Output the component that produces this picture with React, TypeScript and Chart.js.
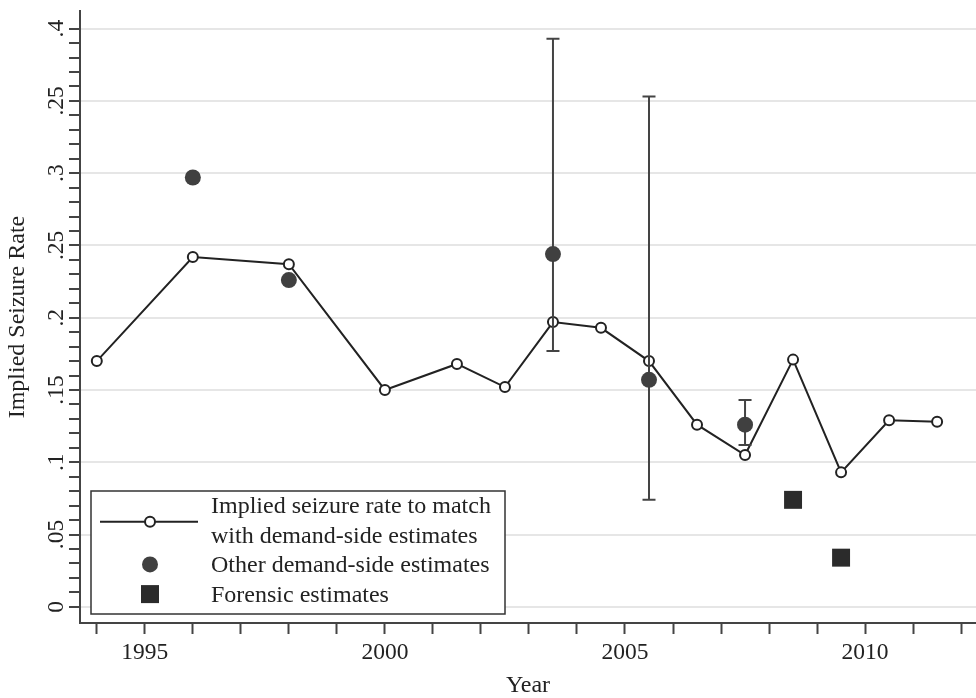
import { useEffect, useRef } from 'react';
import { Chart, registerables } from 'chart.js';

Chart.register(...registerables);

const SERIF = "'Liberation Serif', 'Times New Roman', Times, serif";
const INK = '#222222';
const AXIS = '#444444';

// Implied seizure rate needed to match demand-side estimates
const seizureYears = [1994, 1996, 1998, 2000, 2001.5, 2002.5, 2003.5, 2004.5, 2005.5, 2006.5, 2007.5, 2008.5, 2009.5, 2010.5, 2011.5];
const seizureRates = [0.170, 0.242, 0.237, 0.150, 0.168, 0.152, 0.197, 0.193, 0.170, 0.126, 0.105, 0.171, 0.093, 0.129, 0.128];

// Other demand-side estimates, with ranges where available
const demandYears = [1996, 1998, 2003.5, 2005.5, 2007.5];
const demandRates = [0.297, 0.226, 0.244, 0.157, 0.126];
const demandLow: (number | null)[] = [null, null, 0.177, 0.074, 0.112];
const demandHigh: (number | null)[] = [null, null, 0.393, 0.353, 0.143];

// Forensic estimates
const forensicYears = [2008.5, 2009.5];
const forensicRates = [0.074, 0.034];

// Axis ticks
const yearTicks = [1994, 1995, 1996, 1997, 1998, 1999, 2000, 2001, 2002, 2003, 2004, 2005, 2006, 2007, 2008, 2009, 2010, 2011, 2012];
const yearLabels = ['1995', '2000', '2005', '2010'];
const rateTickValues = [0, 0.05, 0.1, 0.15, 0.2, 0.25, 0.3, 0.35, 0.4];
const rateTickLabels = ['0', '.05', '.1', '.15', '.2', '.25', '.3', '.25', '.4'];

const legendLines = [
  ['Implied seizure rate to match', 'with demand-side estimates'],
  ['Other demand-side estimates'],
  ['Forensic estimates'],
];

// minor rate ticks every 0.01 between the labelled ones
const rateMinorTicks: number[] = [];
for (let i = 0; i <= 40; i++) rateMinorTicks.push(i / 100);

const majorIndex = (v: number) => {
  const hundredths = Math.round(v * 100);
  return hundredths % 5 === 0 ? hundredths / 5 : -1;
};

const errorBars = {
  id: 'errorBars',
  beforeDatasetDraw(chart: any, args: any) {
    if (args.index !== 1) return;
    const { ctx, scales } = chart;
    const xs = scales.x;
    const ys = scales.y;
    ctx.save();
    ctx.strokeStyle = AXIS;
    ctx.lineWidth = 2;
    demandYears.forEach((yr, i) => {
      const lo = demandLow[i];
      const hi = demandHigh[i];
      if (lo == null || hi == null) return;
      const px = xs.getPixelForValue(yr);
      const pl = ys.getPixelForValue(lo);
      const ph = ys.getPixelForValue(hi);
      const cap = 6.5;
      ctx.beginPath();
      ctx.moveTo(px, pl);
      ctx.lineTo(px, ph);
      ctx.moveTo(px - cap, pl);
      ctx.lineTo(px + cap, pl);
      ctx.moveTo(px - cap, ph);
      ctx.lineTo(px + cap, ph);
      ctx.stroke();
    });
    ctx.restore();
  },
};

const boxedLegend = {
  id: 'boxedLegend',
  afterDraw(chart: any) {
    const { ctx, chartArea } = chart;
    const left = chartArea.left + 11;
    const top = chartArea.bottom - 132;
    const width = 414;
    const height = 123;
    ctx.save();
    ctx.fillStyle = '#ffffff';
    ctx.fillRect(left, top, width, height);
    ctx.strokeStyle = '#333333';
    ctx.lineWidth = 1.5;
    ctx.strokeRect(left, top, width, height);

    const symX = left + 59;
    const textX = left + 120;
    const lineGap = 29.7;
    const firstBase = top + 22;

    // line + hollow marker
    const ySym1 = firstBase + lineGap / 2 - 6;
    ctx.strokeStyle = INK;
    ctx.lineWidth = 2;
    ctx.beginPath();
    ctx.moveTo(left + 9, ySym1);
    ctx.lineTo(left + 107, ySym1);
    ctx.stroke();
    ctx.beginPath();
    ctx.arc(symX, ySym1, 5, 0, Math.PI * 2);
    ctx.fillStyle = '#ffffff';
    ctx.fill();
    ctx.stroke();

    // filled circle
    const ySym2 = firstBase + lineGap * 2 - 8;
    ctx.beginPath();
    ctx.arc(symX, ySym2, 8, 0, Math.PI * 2);
    ctx.fillStyle = '#404040';
    ctx.fill();

    // square
    const ySym3 = firstBase + lineGap * 3 - 8;
    ctx.fillStyle = '#2b2b2b';
    ctx.fillRect(symX - 9, ySym3 - 9, 18, 18);

    ctx.fillStyle = INK;
    ctx.font = `24px ${SERIF}`;
    ctx.textAlign = 'left';
    ctx.textBaseline = 'alphabetic';
    let row = 0;
    legendLines.forEach((entry) => {
      entry.forEach((t) => {
        ctx.fillText(t, textX, firstBase + row * lineGap);
        row++;
      });
    });
    ctx.restore();
  },
};

export default function App() {
  const canvasRef = useRef<HTMLCanvasElement | null>(null);

  useEffect(() => {
    const canvas = canvasRef.current;
    if (!canvas) return;

    const chart = new Chart(canvas, {
      type: 'scatter',
      data: {
        datasets: [
          {
            label: 'Implied seizure rate to match with demand-side estimates',
            data: seizureYears.map((x, i) => ({ x, y: seizureRates[i] })),
            showLine: true,
            borderColor: INK,
            borderWidth: 2,
            pointRadius: 5,
            pointBorderWidth: 2,
            pointBackgroundColor: '#ffffff',
            pointBorderColor: INK,
            order: 3,
          },
          {
            label: 'Other demand-side estimates',
            data: demandYears.map((x, i) => ({ x, y: demandRates[i] })),
            pointRadius: 8,
            pointBorderWidth: 0,
            pointBackgroundColor: '#404040',
            pointBorderColor: '#404040',
            order: 2,
          },
          {
            label: 'Forensic estimates',
            data: forensicYears.map((x, i) => ({ x, y: forensicRates[i] })),
            pointStyle: 'rect',
            pointRadius: 12.7,
            pointBorderWidth: 0,
            pointBackgroundColor: '#2b2b2b',
            pointBorderColor: '#2b2b2b',
            order: 1,
          },
        ],
      },
      options: {
        responsive: false,
        animation: false,
        devicePixelRatio: 1,
        layout: { autoPadding: false, padding: { top: 5, left: 0, right: 0, bottom: 0 } },
        plugins: {
          legend: { display: false },
          tooltip: { enabled: false },
        },
        scales: {
          x: {
            type: 'linear',
            min: 1993.65,
            max: 2012.31,
            afterBuildTicks: (s: any) => {
              s.ticks = yearTicks.map((v) => ({ value: v }));
            },
            afterFit: (s: any) => {
              s.height = 75;
            },
            grid: {
              drawOnChartArea: false,
              tickColor: AXIS,
              tickLength: 11,
              tickWidth: 2,
            },
            border: { color: AXIS, width: 2 },
            ticks: {
              autoSkip: false,
              minRotation: 0,
              maxRotation: 0,
              padding: 5,
              color: INK,
              font: { family: SERIF, size: 23.5 },
              callback: (v: any) => (yearLabels.includes(String(v)) ? String(v) : ''),
            },
            title: {
              display: true,
              text: 'Year',
              color: INK,
              font: { family: SERIF, size: 24, lineHeight: 1 },
              padding: { top: 0, bottom: 0 },
            },
          },
          y: {
            type: 'linear',
            min: -0.0112,
            max: 0.4121,
            afterBuildTicks: (s: any) => {
              s.ticks = rateMinorTicks.map((v) => ({ value: v }));
            },
            afterFit: (s: any) => {
              s.width = 80;
            },
            grid: {
              color: (c: any) => (c.tick && majorIndex(c.tick.value) >= 0 ? '#e6e6e6' : 'rgba(0,0,0,0)'),
              lineWidth: 2,
              tickColor: AXIS,
              tickLength: 11,
              tickWidth: 2,
            },
            border: { color: AXIS, width: 2 },
            ticks: {
              autoSkip: false,
              minRotation: 90,
              maxRotation: 90,
              crossAlign: 'center',
              padding: -3,
              color: INK,
              font: { family: SERIF, size: 23.5 },
              callback: (v: any) => {
                const k = majorIndex(Number(v));
                return k >= 0 && k < rateTickValues.length ? rateTickLabels[k] : '';
              },
            },
            title: {
              display: true,
              text: 'Implied Seizure Rate',
              color: INK,
              font: { family: SERIF, size: 24, lineHeight: 1 },
              padding: { top: 5.5, bottom: 0 },
            },
          },
        },
      } as any,
      plugins: [errorBars, boxedLegend],
    });

    return () => {
      chart.destroy();
    };
  }, []);

  return (
    <div style={{ position: 'fixed', left: 0, top: 0, width: 976, height: 698, background: '#ffffff' }}>
      <canvas ref={canvasRef} width={976} height={698} />
    </div>
  );
}
